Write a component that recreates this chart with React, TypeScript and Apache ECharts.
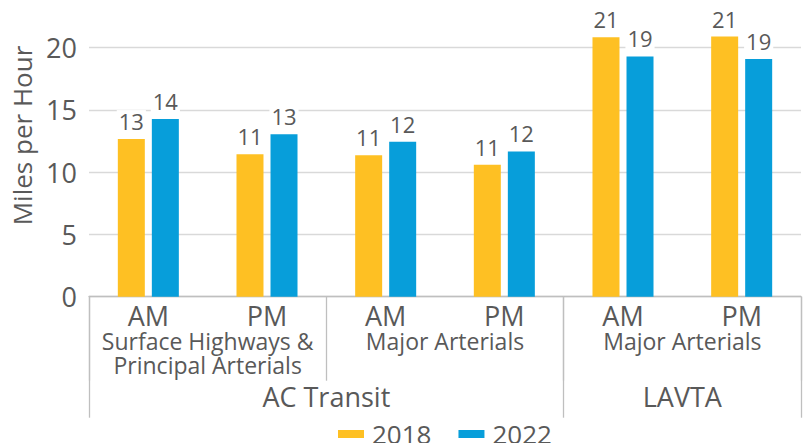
import React, { useEffect, useRef } from "react";
import * as echarts from "echarts";

const categories = ["AM", "PM", "AM", "PM", "AM", "PM"];
const roadGroups = ["Surface Highways &\nPrincipal Arterials", "Major Arterials", "Major Arterials"];
const agencies = ["AC Transit", "LAVTA"];
const agencySpans = [4, 2];
const seriesNames = ["2018", "2022"];
const values2018 = [12.66, 11.45, 11.37, 10.6, 20.83, 20.89];
const values2022 = [14.27, 13.04, 12.45, 11.67, 19.3, 19.09];
const yTickValues = [0, 5, 10, 15, 20];
const yTitle = "Miles per Hour";

const FONT = '"Open Sans", sans-serif';
const TEXT = "#595959";
const COLORS = ["#FEC023", "#079EDA"];

export default function App() {
  const ref = useRef<HTMLDivElement>(null);
  useEffect(() => {
    if (!ref.current) return;
    const chart = echarts.init(ref.current, null, { renderer: "svg" });

    const total = agencySpans.reduce((a, b) => a + b, 0);
    const agencyAxisData: string[] = new Array(total + 1).fill("");
    const agencyTickIdx: number[] = [0];
    let start = 0;
    agencies.forEach((a, i) => {
      agencyAxisData[start + agencySpans[i] / 2] = a;
      start += agencySpans[i];
      agencyTickIdx.push(start);
    });

    const label = {
      show: true,
      position: "top",
      distance: 7,
      fontFamily: FONT,
      fontSize: 22,
      lineHeight: 22,
      color: TEXT,
      backgroundColor: "#fff",
      padding: [0, 2],
      formatter: (p: any) => String(Math.round(p.value)),
    };

    chart.setOption({
      animation: false,
      textStyle: { fontFamily: FONT },
      grid: { left: 89, right: 6, top: 47.7, bottom: 146.3, containLabel: false },
      legend: {
        data: seriesNames,
        left: 338,
        top: 421,
        padding: 0,
        itemWidth: 26,
        itemHeight: 8,
        itemGap: 27,
        icon: "rect",
        textStyle: { fontFamily: FONT, fontSize: 26, lineHeight: 20, color: TEXT, padding: [0, 0, 0, 3] },
      },
      xAxis: [
        {
          type: "category",
          data: categories,
          position: "bottom",
          axisLine: { lineStyle: { color: "#BFBFBF", width: 1.3 } },
          axisTick: { show: false },
          axisLabel: { fontFamily: FONT, fontSize: 27, lineHeight: 22, margin: 7.3, color: TEXT, interval: 0 },
        },
        {
          type: "category",
          data: roadGroups,
          position: "bottom",
          offset: 0,
          axisLine: { show: false },
          axisTick: { show: true, length: 84, interval: 0, lineStyle: { color: "#BFBFBF", width: 1.3 } },
          axisLabel: { fontFamily: FONT, fontSize: 23, lineHeight: 24, margin: 31.8, color: TEXT, interval: 0 },
        },
        {
          type: "category",
          data: agencyAxisData,
          boundaryGap: false,
          position: "bottom",
          offset: 0,
          axisLine: { show: false },
          axisTick: {
            show: true,
            length: 121,
            interval: (i: number) => agencyTickIdx.indexOf(i) >= 0,
            lineStyle: { color: "#BFBFBF", width: 1.3 },
          },
          axisLabel: { fontFamily: FONT, fontSize: 27, lineHeight: 26, margin: 86.8, color: TEXT, interval: 0 },
        },
      ],
      yAxis: {
        type: "value",
        min: yTickValues[0],
        max: yTickValues[yTickValues.length - 1],
        interval: yTickValues[1] - yTickValues[0],
        axisLine: { show: false },
        axisTick: { show: false },
        splitLine: { lineStyle: { color: "#D9D9D9", width: 1.3 } },
        axisLabel: { fontFamily: FONT, fontSize: 27, color: TEXT, margin: 12 },
      },
      graphic: [
        {
          type: "text",
          x: 22,
          y: 135.5,
          rotation: Math.PI / 2,
          style: {
            text: yTitle,
            font: `26px ${FONT}`,
            fill: TEXT,
            align: "center",
            verticalAlign: "middle",
          },
        },
      ],
      series: [
        {
          name: seriesNames[0],
          type: "bar",
          data: values2018,
          xAxisIndex: 0,
          barWidth: 27,
          barGap: "26%",
          clip: false,
          itemStyle: { color: COLORS[0] },
          label,
        },
        {
          name: seriesNames[1],
          type: "bar",
          data: values2022,
          xAxisIndex: 0,
          barWidth: 27,
          barGap: "26%",
          clip: false,
          itemStyle: { color: COLORS[1] },
          label,
        },
      ],
    });
    return () => chart.dispose();
  }, []);
  return <div ref={ref} style={{ position: "absolute", left: 0, top: 0, width: 807, height: 443 }} />;
}
